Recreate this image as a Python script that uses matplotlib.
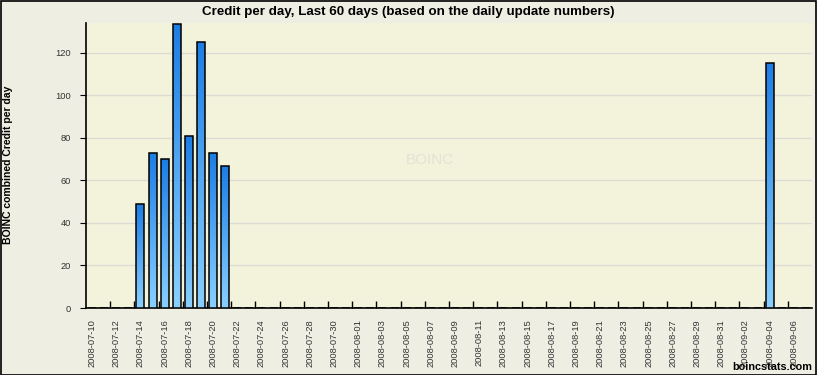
import numpy as np
import pandas as pd
import matplotlib
matplotlib.use("Agg")
import matplotlib.pyplot as plt
from matplotlib.colors import LinearSegmentedColormap

# ---- data ----
dates = [d.strftime("%Y-%m-%d") for d in pd.date_range("2008-07-10", "2008-09-07", freq="D")]
credits = [0, 0, 0, 0, 49, 73, 70, 133.5, 81, 125,
           73, 67, 0, 0, 0, 0, 0, 0, 0, 0,
           0, 0, 0, 0, 0, 0, 0, 0, 0, 0,
           0, 0, 0, 0, 0, 0, 0, 0, 0, 0,
           0, 0, 0, 0, 0, 0, 0, 0, 0, 0,
           0, 0, 0, 0, 0, 0, 115.3, 0, 0, 0]
y_ticks = [0, 20, 40, 60, 80, 100, 120]
title = "Credit per day, Last 60 days (based on the daily update numbers)"
ylabel = "BOINC combined Credit per day"

plt.rcParams['font.family'] = ['Liberation Sans', 'DejaVu Sans']

W, H = 817, 375
fig = plt.figure(figsize=(W / 100, H / 100), dpi=100)
fig.patch.set_facecolor("#efeee3")
ax = fig.add_axes([86 / W, (H - 308) / H, (812 - 86) / W, (308 - 23) / H])
ax.set_facecolor("#f3f3dc")

x = np.arange(len(dates))

for yt in y_ticks[1:]:
    ax.axhline(yt, color="#dcdcd4", lw=1.0, zorder=1)

cmap = LinearSegmentedColormap.from_list("bl", ["#8ad0ff", "#1c7de4"])
grad = np.linspace(0, 1, 256).reshape(-1, 1)
bars = ax.bar(x, credits, width=0.66, facecolor="none", edgecolor="black", linewidth=1.1, zorder=4)
for b, v in zip(bars, credits):
    if v <= 0:
        continue
    x0 = b.get_x()
    im = ax.imshow(grad, cmap=cmap, aspect="auto", origin="lower",
                   extent=[x0, x0 + b.get_width(), 0, v], zorder=3, interpolation="bilinear")
    im.set_clip_path(b)
ax.set_xlim(-0.5, len(dates) - 0.5)
ax.set_ylim(0, 134)

ax.set_xticks(x[::2])
ax.set_xticklabels(dates[::2], rotation=90, fontsize=6.7, color="#333333")
ax.set_xticks(np.arange(1.5, len(dates) - 0.5, 2), minor=True)
ax.tick_params(axis="x", which="major", length=0, pad=8)
ax.tick_params(axis="x", which="minor", length=5, direction="in", width=1, color="black")
ax.set_yticks(y_ticks)
ax.set_yticklabels([str(v) for v in y_ticks], fontsize=6.7, color="#333333")
ax.tick_params(axis="y", length=4, direction="out", width=0.8, pad=7)

for s in ["top", "right"]:
    ax.spines[s].set_visible(False)
for s in ["left", "bottom"]:
    ax.spines[s].set_color("black")
    ax.spines[s].set_linewidth(1.2)

fig.text(408 / W, 1 - 12 / H, title, ha="center", va="center", fontsize=9.6, fontweight="bold")
fig.text(8 / W, 1 - 165 / H, ylabel, ha="center", va="center", rotation=90, fontsize=7.5, fontweight="bold")
fig.text(812 / W, 1 - 367 / H, "boincstats.com", ha="right", va="center", fontsize=7.8, fontweight="bold")
fig.text(430 / W, 1 - 160 / H, "BOINC", ha="center", va="center", fontsize=11, color="#e2e2d6", zorder=0)

border = plt.Rectangle((0.5 / W, 0.5 / H), 1 - 1.5 / W, 1 - 1.5 / H, transform=fig.transFigure,
                       fill=False, edgecolor="black", lw=1.2)
fig.patches.append(border)

fig.savefig("out.png", dpi=100, facecolor=fig.get_facecolor())
